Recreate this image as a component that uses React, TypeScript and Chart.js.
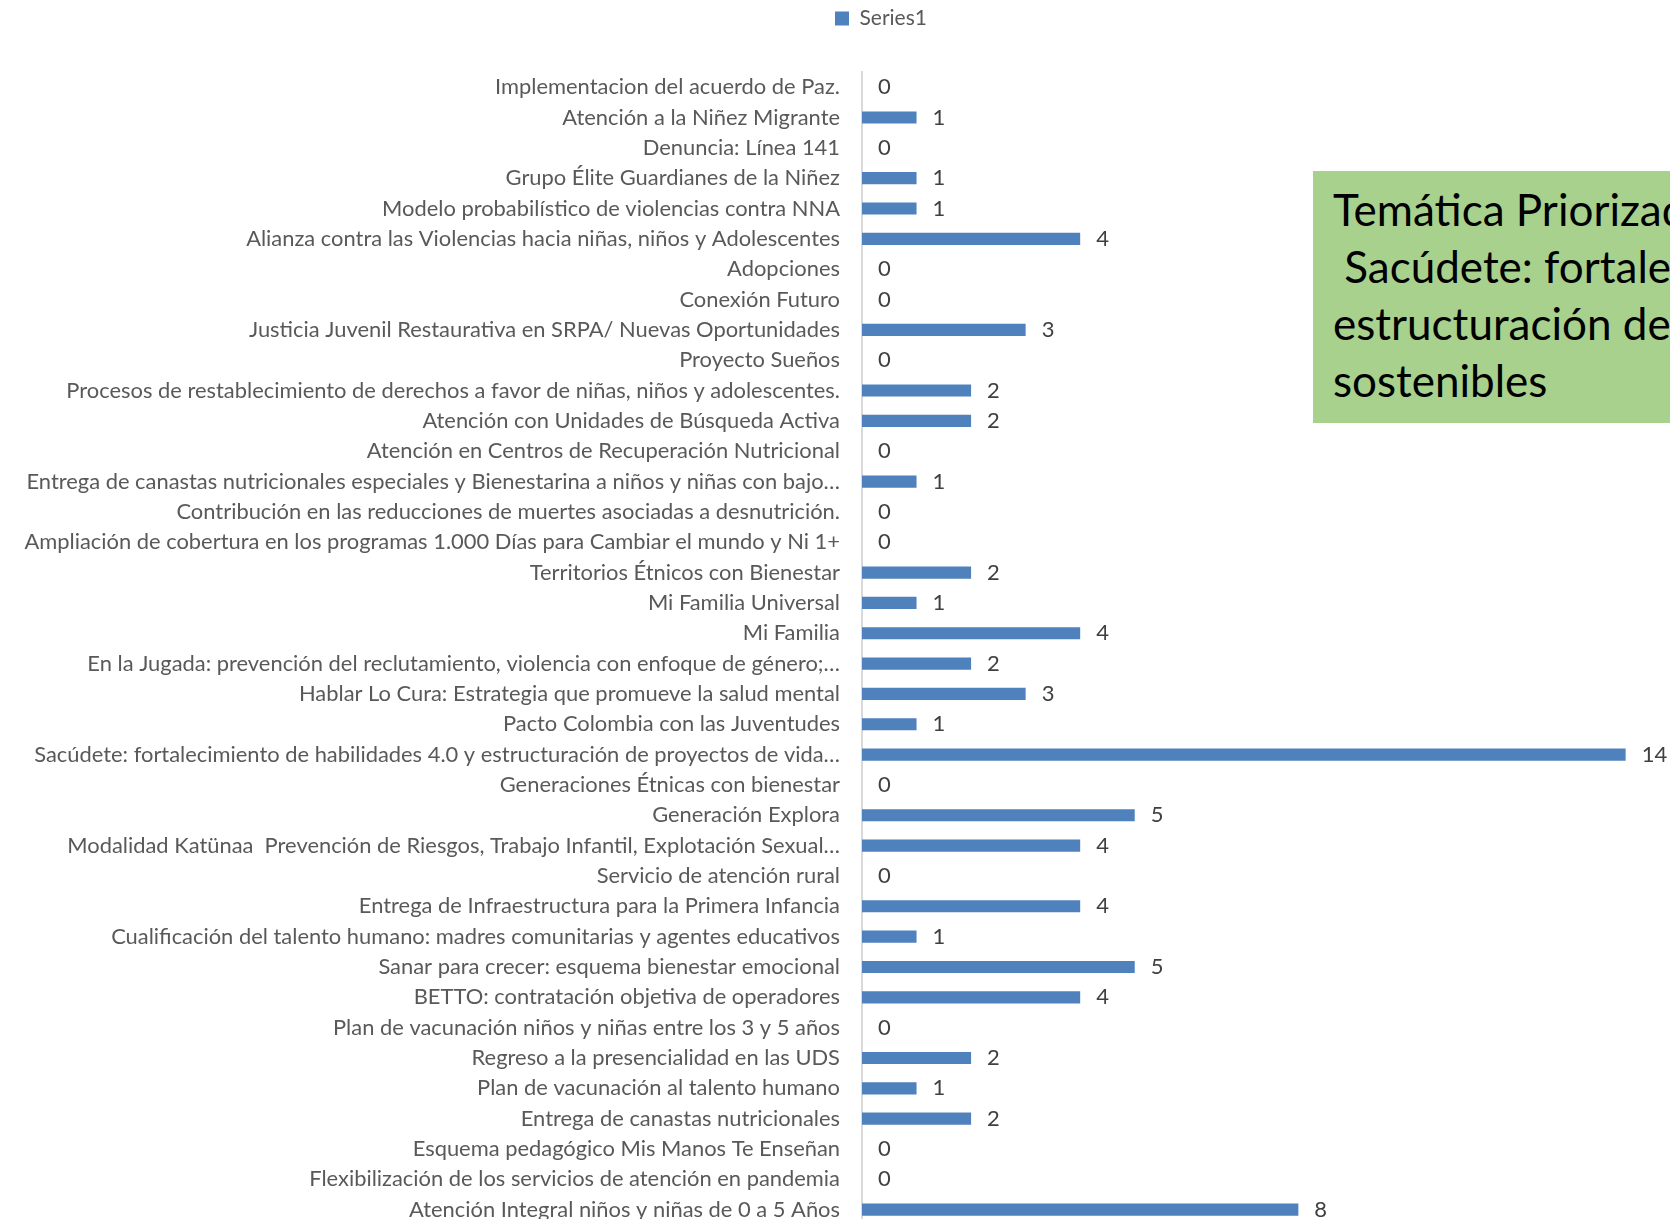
import React, { useEffect, useRef } from "react";
import { Chart, registerables } from "chart.js";

Chart.register(...registerables);

const categories: string[] = [
  "Implementacion del acuerdo de Paz.",
  "Atención a la Niñez Migrante",
  "Denuncia: Línea 141",
  "Grupo Élite Guardianes de la Niñez",
  "Modelo probabilístico de violencias contra NNA",
  "Alianza contra las Violencias hacia niñas, niños y Adolescentes",
  "Adopciones",
  "Conexión Futuro",
  "Justicia Juvenil Restaurativa en SRPA/ Nuevas Oportunidades",
  "Proyecto Sueños",
  "Procesos de restablecimiento de derechos a favor de niñas, niños y adolescentes.",
  "Atención con Unidades de Búsqueda Activa",
  "Atención en Centros de Recuperación Nutricional",
  "Entrega de canastas nutricionales especiales y Bienestarina a niños y niñas con bajo…",
  "Contribución en las reducciones de muertes asociadas a desnutrición.",
  "Ampliación de cobertura en los programas 1.000 Días para Cambiar el mundo y Ni 1+",
  "Territorios Étnicos con Bienestar",
  "Mi Familia Universal",
  "Mi Familia",
  "En la Jugada: prevención del reclutamiento, violencia con enfoque de género;…",
  "Hablar Lo Cura: Estrategia que promueve la salud mental",
  "Pacto Colombia con las Juventudes",
  "Sacúdete: fortalecimiento de habilidades 4.0 y estructuración de proyectos de vida…",
  "Generaciones Étnicas con bienestar",
  "Generación Explora",
  "Modalidad Katünaa  Prevención de Riesgos, Trabajo Infantil, Explotación Sexual…",
  "Servicio de atención rural",
  "Entrega de Infraestructura para la Primera Infancia",
  "Cualificación del talento humano: madres comunitarias y agentes educativos",
  "Sanar para crecer: esquema bienestar emocional",
  "BETTO: contratación objetiva de operadores",
  "Plan de vacunación niños y niñas entre los 3 y 5 años",
  "Regreso a la presencialidad en las UDS",
  "Plan de vacunación al talento humano",
  "Entrega de canastas nutricionales",
  "Esquema pedagógico Mis Manos Te Enseñan",
  "Flexibilización de los servicios de atención en pandemia",
  "Atención Integral niños y niñas de 0 a 5 Años",
];

const series1: number[] = [
  0, 1, 0, 1, 1, 4, 0, 0, 3, 0, 2, 2, 0, 1, 0, 0, 2, 1, 4, 2, 3, 1, 14, 0, 5, 4,
  0, 4, 1, 5, 4, 0, 2, 1, 2, 0, 0, 8,
];

const seriesName = "Series1";

const noteLines: string[] = [
  "Temática Priorizada:",
  " Sacúdete: fortalecimiento de habilidades 4.0 y",
  "estructuración de proyectos de vida",
  "sostenibles",
];

const FONT = "Lato, 'Open Sans', sans-serif";
const TEXT_GRAY = "#595959";
const BAR_BLUE = "#4F81BD";

const valueLabels = {
  id: "valueLabels",
  afterDatasetsDraw(chart: any) {
    const ctx = chart.ctx;
    const meta = chart.getDatasetMeta(0);
    const data = chart.data.datasets[0].data as number[];
    ctx.save();
    ctx.font = `22px ${FONT}`;
    ctx.fillStyle = "#404040";
    ctx.textAlign = "left";
    ctx.textBaseline = "middle";
    meta.data.forEach((bar: any, i: number) => {
      ctx.fillText(String(data[i]), bar.x + 16, bar.y);
    });
    ctx.restore();
  },
};

export default function App() {
  const canvasRef = useRef<HTMLCanvasElement | null>(null);

  useEffect(() => {
    if (!canvasRef.current) return;
    const chart = new Chart(canvasRef.current, {
      type: "bar",
      data: {
        labels: categories,
        datasets: [
          {
            label: seriesName,
            data: series1,
            backgroundColor: BAR_BLUE,
            borderWidth: 0,
            barPercentage: 0.4,
            categoryPercentage: 1,
          },
        ],
      },
      options: {
        indexAxis: "y",
        responsive: false,
        animation: false,
        layout: { padding: { left: 0, right: 0, top: 0, bottom: 0 } },
        scales: {
          x: {
            display: false,
            min: 0,
            max: 16.5,
          },
          y: {
            afterFit: (scale: any) => {
              scale.width = 862;
            },
            grid: { display: false, drawTicks: false },
            border: { display: true, color: "#d9d9d9", width: 2 },
            ticks: {
              autoSkip: false,
              padding: 22,
              color: TEXT_GRAY,
              font: { family: FONT, size: 21.9 },
            },
          },
        },
        plugins: {
          legend: {
            display: true,
            position: "top",
            weight: 3000,
            labels: {
              boxWidth: 14,
              boxHeight: 14,
              padding: 8,
              color: TEXT_GRAY,
              font: { family: FONT, size: 21 },
            },
          } as any,
          title: {
            display: true,
            text: "",
            font: { size: 10, lineHeight: 1 },
            padding: { top: 0, bottom: 23 },
          },
          tooltip: { enabled: false },
        },
      },
      plugins: [valueLabels],
    });
    return () => chart.destroy();
  }, []);

  return (
    <div
      style={{
        position: "fixed",
        left: 0,
        top: 0,
        width: 1670,
        height: 1219,
        overflow: "hidden",
        background: "#ffffff",
      }}
    >
      <canvas
        ref={canvasRef}
        width={1762}
        height={1260}
        style={{ width: 1762, height: 1260, display: "block" }}
      />
      <div
        style={{
          position: "absolute",
          left: 1313,
          top: 171,
          width: 420,
          height: 252,
          background: "#A9D18E",
          overflow: "hidden",
          boxSizing: "border-box",
          paddingLeft: 20,
          paddingTop: 10,
          fontFamily: FONT,
          fontSize: 44,
          lineHeight: "57px",
          color: "#000000",
          whiteSpace: "pre",
        }}
      >
        {noteLines.map((l, i) => (
          <div key={i}>{l}</div>
        ))}
      </div>
    </div>
  );
}
